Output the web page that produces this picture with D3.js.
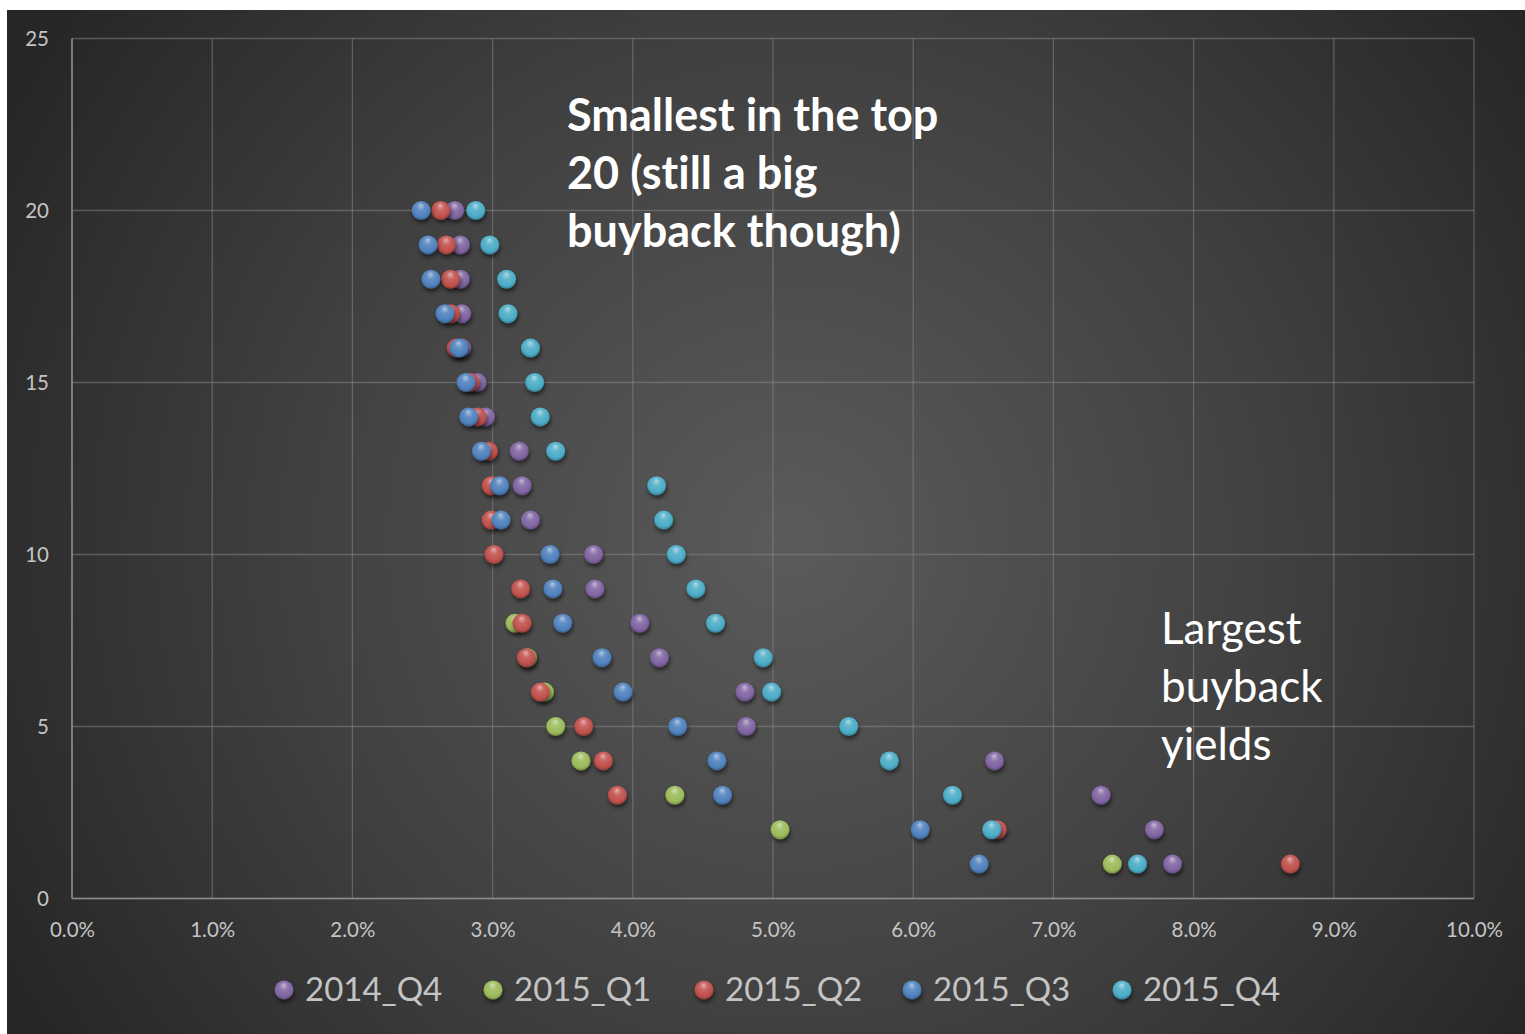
<!DOCTYPE html>
<html>
<head>
<meta charset="utf-8">
<script src="https://cdn.jsdelivr.net/npm/d3@7"></script>
<style>
  html, body { margin: 0; padding: 0; background: #ffffff; }
  svg { display: block; }
  text { font-variant-ligatures: none; font-feature-settings: "liga" 0, "clig" 0; }
</style>
</head>
<body>
<svg id="chart" width="1525" height="1034"></svg>
<script>
// Buyback yield (%) of the 20 largest buybacks, ranked 1..20, per quarter
const ranks = [1, 2, 3, 4, 5, 6, 7, 8, 9, 10, 11, 12, 13, 14, 15, 16, 17, 18, 19, 20];

const seriesNames = ["2014_Q4", "2015_Q1", "2015_Q2", "2015_Q3", "2015_Q4"];
const seriesColors = ["#8064a2", "#9bbb59", "#c0504d", "#4f81bd", "#4bacc6"];

const yield2014Q4 = [7.85, 7.72, 7.34, 6.58, 4.81, 4.80, 4.19, 4.05, 3.73, 3.72,
                     3.27, 3.21, 3.19, 2.95, 2.89, 2.78, 2.78, 2.77, 2.77, 2.73];
const yield2015Q1 = [7.42, 5.05, 4.30, 3.63, 3.45, 3.37, 3.25, 3.16];
const yield2015Q2 = [8.69, 6.60, 3.89, 3.79, 3.65, 3.34, 3.24, 3.21, 3.20, 3.01,
                     2.99, 2.99, 2.97, 2.89, 2.84, 2.74, 2.70, 2.70, 2.67, 2.63];
const yield2015Q3 = [6.47, 6.05, 4.64, 4.60, 4.32, 3.93, 3.78, 3.50, 3.43, 3.41,
                     3.06, 3.05, 2.92, 2.83, 2.81, 2.76, 2.66, 2.56, 2.54, 2.49];
const yield2015Q4 = [7.60, 6.56, 6.28, 5.83, 5.54, 4.99, 4.93, 4.59, 4.45, 4.31,
                     4.22, 4.17, 3.45, 3.34, 3.30, 3.27, 3.11, 3.10, 2.98, 2.88];

const seriesValues = [yield2014Q4, yield2015Q1, yield2015Q2, yield2015Q3, yield2015Q4];

const xTicks = [0, 1, 2, 3, 4, 5, 6, 7, 8, 9, 10];
const yTicks = [0, 5, 10, 15, 20, 25];

const annotationTop = ["Smallest in the top", "20 (still a big", "buyback though)"];
const annotationBottom = ["Largest", "buyback", "yields"];

const svg = d3.select("#chart");
const defs = svg.append("defs");

// Dark chart backdrop with a soft light spot toward the middle
const bg = defs.append("radialGradient").attr("id", "bgGrad")
  .attr("gradientUnits", "userSpaceOnUse")
  .attr("cx", 790).attr("cy", 540).attr("r", 900);
bg.append("stop").attr("offset", "0%").attr("stop-color", "#5b5b5b");
bg.append("stop").attr("offset", "55%").attr("stop-color", "#404040");
bg.append("stop").attr("offset", "100%").attr("stop-color", "#262626");

svg.append("rect").attr("x", 7).attr("y", 10)
  .attr("width", 1525 - 7).attr("height", 1034 - 10)
  .attr("fill", "url(#bgGrad)");

// Sphere shading per series
function mix(a, b, t) { return d3.interpolateRgb(a, b)(t); }
seriesColors.forEach((c, i) => {
  const g = defs.append("radialGradient").attr("id", "ball" + i)
    .attr("cx", "50%").attr("cy", "45%").attr("r", "60%")
    .attr("fx", "48%").attr("fy", "22%");
  g.append("stop").attr("offset", "0%").attr("stop-color", mix(c, "#ffffff", 0.55));
  g.append("stop").attr("offset", "35%").attr("stop-color", mix(c, "#ffffff", 0.12));
  g.append("stop").attr("offset", "75%").attr("stop-color", c);
  g.append("stop").attr("offset", "100%").attr("stop-color", mix(c, "#000000", 0.35));
});

const shadow = defs.append("filter").attr("id", "ballShadow")
  .attr("x", "-50%").attr("y", "-50%").attr("width", "200%").attr("height", "200%");
shadow.append("feDropShadow").attr("dx", 1).attr("dy", 3)
  .attr("stdDeviation", 2.2).attr("flood-color", "#000").attr("flood-opacity", 0.55);

// Scales
const x = d3.scaleLinear().domain([0, 10]).range([72, 1474]);
const y = d3.scaleLinear().domain([0, 25]).range([898.5, 38.5]);

const plot = svg.append("g");

// Gridlines
plot.append("g").selectAll("line").data(xTicks).join("line")
  .attr("x1", d => x(d)).attr("x2", d => x(d))
  .attr("y1", y(0)).attr("y2", y(25))
  .attr("stroke", "#8a8a8a").attr("stroke-opacity", 0.5).attr("stroke-width", 1.3);
plot.append("g").selectAll("line").data(yTicks).join("line")
  .attr("x1", x(0)).attr("x2", x(10))
  .attr("y1", d => y(d)).attr("y2", d => y(d))
  .attr("stroke", "#8a8a8a").attr("stroke-opacity", 0.5).attr("stroke-width", 1.3);

// Axis lines
plot.append("line").attr("x1", x(0)).attr("x2", x(0)).attr("y1", y(0)).attr("y2", y(25))
  .attr("stroke", "#8c8c8c").attr("stroke-width", 1.5);
plot.append("line").attr("x1", x(0)).attr("x2", x(10)).attr("y1", y(0)).attr("y2", y(0))
  .attr("stroke", "#8c8c8c").attr("stroke-width", 1.5);

const font = "Lato, 'Open Sans', sans-serif";

// Axes (labels only)
const xAxis = d3.axisBottom(x).tickValues(xTicks).tickSize(0).tickPadding(0)
  .tickFormat(d => d3.format(".1f")(d) + "%");
const gx = svg.append("g").attr("transform", `translate(0, ${y(0) + 38})`).call(xAxis);
gx.select(".domain").remove();
gx.selectAll("text").attr("fill", "#c4c4c4")
  .style("font-family", font).style("font-size", "20.5px")
  .attr("dy", 0);

const yAxis = d3.axisLeft(y).tickValues(yTicks).tickSize(0).tickPadding(0);
const gy = svg.append("g").attr("transform", `translate(49, 0)`).call(yAxis);
gy.select(".domain").remove();
gy.selectAll("text").attr("fill", "#c4c4c4")
  .style("font-family", font).style("font-size", "20.5px")
  .attr("dy", "0.35em");

// Points, drawn series by series so later quarters sit on top
const r = 9.5;
seriesValues.forEach((vals, i) => {
  plot.append("g").selectAll("circle")
    .data(vals.map((v, k) => ({ v, rank: ranks[k] })))
    .join("circle")
    .attr("cx", d => x(d.v))
    .attr("cy", d => y(d.rank))
    .attr("r", r)
    .attr("fill", `url(#ball${i})`)
    .attr("filter", "url(#ballShadow)");
});

// Annotations
svg.append("g").selectAll("text").data(annotationTop).join("text")
  .attr("x", 567).attr("y", (d, i) => 131 + i * 58)
  .attr("fill", "#ffffff").style("font-family", font)
  .style("font-weight", "bold").style("font-size", "45px")
  .text(d => d);
svg.append("g").selectAll("text").data(annotationBottom).join("text")
  .attr("x", 1161).attr("y", (d, i) => 644 + i * 58)
  .attr("fill", "#ffffff").style("font-family", font)
  .style("font-size", "44px")
  .text(d => d);

// Legend
const legendX = [284, 493, 704, 912, 1122];
const legend = svg.append("g");
seriesNames.forEach((name, i) => {
  legend.append("circle").attr("cx", legendX[i]).attr("cy", 990).attr("r", 9.5)
    .attr("fill", `url(#ball${i})`).attr("filter", "url(#ballShadow)");
  legend.append("text").attr("x", legendX[i] + 21).attr("y", 1001)
    .attr("fill", "#c4c4c4").style("font-family", font).style("font-size", "33px")
    .text(name);
});
</script>
</body>
</html>
